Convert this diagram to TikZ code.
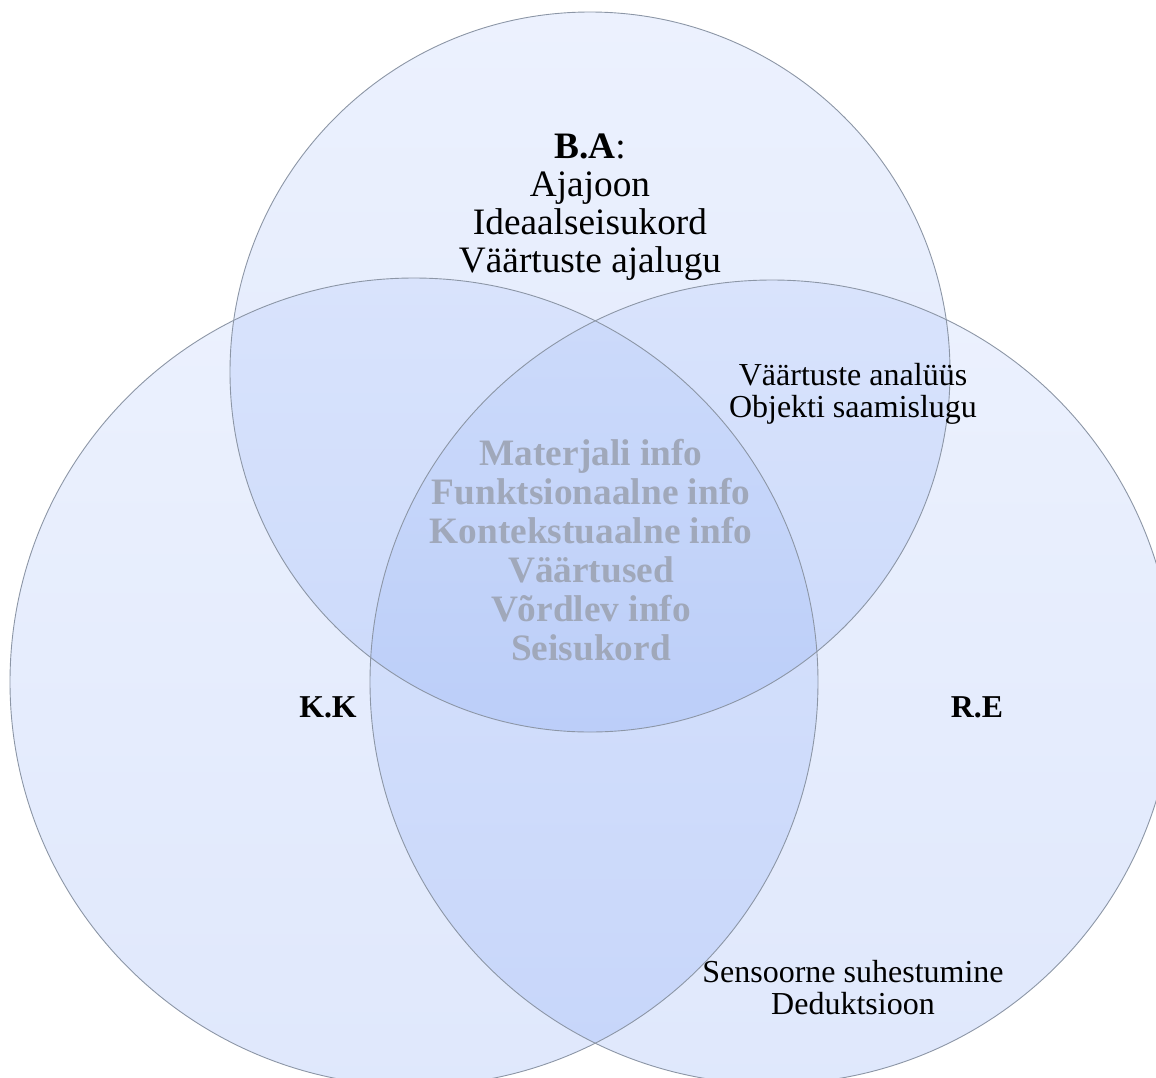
\documentclass[tikz,border=0pt]{standalone}
\usepackage{fontspec}
\setmainfont{Liberation Serif}
\definecolor{venntop}{RGB}{165,190,249}
\definecolor{vennbot}{RGB}{105,145,241}
\definecolor{vennline}{RGB}{140,150,166}
\definecolor{centertext}{RGB}{160,168,186}
\tikzset{
  vennfill/.style={top color=venntop, bottom color=vennbot, fill opacity=0.21, draw=none},
  vennedge/.style={draw=vennline, line width=0.9pt},
  bigtext/.style={font=\fontsize{37.3}{38}\selectfont, align=center, anchor=base, inner sep=0pt},
  midtext/.style={font=\fontsize{37.3}{39}\selectfont\bfseries, text=centertext, align=center, anchor=base, inner sep=0pt},
  smalltext/.style={font=\fontsize{32}{32}\selectfont, align=center, anchor=base, inner sep=0pt},
  labeltext/.style={font=\fontsize{31.8}{36}\selectfont\bfseries, anchor=base, inner sep=0pt}
}
\begin{document}
\begin{tikzpicture}[x=1pt,y=-1pt]
\useasboundingbox (0,0) rectangle (1156,1077);
\begin{scope}
\clip (0,0) rectangle (1156,1077);
% fills
\shade[vennfill] (590,372) circle (360);
\shade[vennfill] (414,682) circle (404);
\shade[vennfill] (772,682) circle (402);
% outlines
\draw[vennedge] (590,372) circle (360);
\draw[vennedge] (414,682) circle (404);
\draw[vennedge] (772,682) circle (402);
\end{scope}
% texts (anchor = baseline of the last line)
\node[bigtext] (ba) at (590,272) {\textbf{B.A}:\\Ajajoon\\Ideaalseisukord\\Väärtuste ajalugu};
\node[midtext] (mid) at (591,660) {Materjali info\\Funktsionaalne info\\Kontekstuaalne info\\Väärtused\\Võrdlev info\\Seisukord};
\node[smalltext] (baRe) at (853,417) {Väärtuste analüüs\\Objekti saamislugu};
\node[smalltext] (kkRe) at (853,1014) {Sensoorne suhestumine\\Deduktsioon};
\node[labeltext] (kk) at (328,717) {K.K};
\node[labeltext] (re) at (977,717) {R.E};
\end{tikzpicture}
\end{document}
